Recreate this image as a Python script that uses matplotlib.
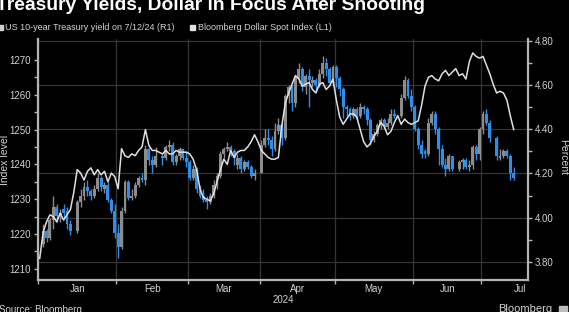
import numpy as np
import pandas as pd
import matplotlib
matplotlib.use("Agg")
import matplotlib.pyplot as plt
from matplotlib.patches import Rectangle

W, H = 569, 312
plt.rcParams['font.family'] = ['Liberation Sans', 'DejaVu Sans']

# one entry per weekday, Jan 1 2024 .. Jul 12 2024
days = pd.bdate_range("2024-01-01", "2024-07-12")

# Bloomberg Dollar Spot Index (left axis)
dollar = [
    1213.0, 1220.5, 1223.5, 1225.5, 1225.0, 1223.5, 1226.0, 1224.0, 1225.5, 1227.0,
    1232.0, 1238.5, 1237.5, 1235.5, 1238.0, 1239.0, 1237.0, 1238.5, 1237.0, 1238.0,
    1235.0, 1237.5, 1236.5,
    1233.0, 1244.5, 1242.5, 1242.0, 1243.0, 1242.5, 1244.0, 1245.0, 1250.0, 1245.5,
    1244.0, 1244.0, 1243.5, 1243.0, 1244.0, 1243.0, 1243.0, 1244.0, 1243.5, 1243.5,
    1243.5,
    1243.0, 1241.5, 1238.5, 1233.0, 1230.5, 1230.0, 1229.5, 1231.5, 1235.0, 1238.5,
    1241.5, 1240.0, 1244.0, 1242.0, 1243.5, 1244.0, 1244.0, 1245.0, 1246.5, 1248.5,
    1246.5,
    1244.0, 1243.0, 1242.0, 1241.5, 1241.5, 1242.0, 1251.0, 1257.5, 1260.5, 1263.0,
    1265.5, 1264.5, 1262.5, 1263.0, 1263.5, 1261.5, 1260.5, 1263.0, 1263.5, 1261.5,
    1262.5, 1264.5,
    1258.5, 1253.5, 1251.5, 1253.0, 1254.5, 1254.5, 1253.5, 1250.0, 1246.5, 1245.0,
    1246.0, 1248.0, 1249.5, 1252.0, 1251.0, 1248.5, 1249.5, 1252.0, 1254.0, 1251.5,
    1253.0, 1252.0, 1251.5,
    1252.0, 1252.5, 1257.0, 1262.5, 1265.0, 1265.5, 1264.5, 1264.0, 1266.0, 1267.0,
    1265.5, 1266.5, 1267.5, 1265.5, 1266.0, 1264.5, 1269.5, 1272.0, 1271.0, 1270.5,
    1271.0, 1268.5, 1266.0, 1263.0, 1260.5, 1261.0, 1260.5, 1258.5, 1254.0, 1250.0,
]

# US 10-year Treasury yield candles (right axis), None = market closed
N = None
y_open = [
    N, 3.88, 3.94, 3.91, 3.99, 4.05, 4.01, 4.04, 4.03, 3.97, N, 3.94, 4.07, 4.10, 4.14,
    4.12, 4.10, 4.13, 4.18, 4.13, 4.15, 4.08, 4.03,
    3.93, 3.87, 4.03, 4.16, 4.09, 4.10, 4.15, 4.18, 4.17, 4.31, 4.26, 4.24, N, 4.28,
    4.27, 4.32, 4.33, 4.25, 4.28, 4.31, 4.27,
    4.25, 4.18, 4.22, 4.13, 4.10, 4.08, 4.07, 4.10, 4.15, 4.19, 4.29, 4.31, 4.32, 4.30,
    4.24, 4.27, 4.22, 4.25, 4.23, 4.19, N,
    4.20, 4.33, 4.36, 4.35, 4.31, 4.39, 4.42, 4.36, 4.55, 4.59, 4.52, 4.63, 4.67, 4.59,
    4.64, 4.61, 4.62, 4.60, 4.65, 4.70, 4.67, 4.61,
    4.68, 4.63, 4.58, 4.50, 4.49, 4.46, 4.49, 4.46, 4.50, 4.49, 4.44, 4.35, 4.38, 4.42,
    4.44, 4.41, 4.43, 4.47, N, 4.46, 4.54, 4.62, 4.55,
    4.50, 4.40, 4.33, 4.30, 4.29, 4.43, 4.47, 4.40, 4.31, 4.24, 4.22, 4.28, N, 4.22,
    4.25, 4.26, 4.23, 4.24, 4.32, 4.29,
    4.40, 4.47, 4.43, N, 4.36, 4.27, 4.28, 4.30, 4.28, 4.20,
]
y_high = [
    N, 3.97, 3.95, 4.00, 4.10, 4.06, 4.04, 4.06, 4.05, 3.99, N, 4.08, 4.13, 4.16, 4.17,
    4.13, 4.15, 4.20, 4.19, 4.16, 4.16, 4.09, 4.06,
    3.97, 4.05, 4.17, 4.17, 4.13, 4.16, 4.19, 4.20, 4.33, 4.32, 4.28, 4.32, N, 4.29,
    4.33, 4.35, 4.34, 4.29, 4.32, 4.31, 4.30,
    4.26, 4.24, 4.23, 4.15, 4.13, 4.10, 4.11, 4.17, 4.20, 4.30, 4.32, 4.34, 4.33, 4.31,
    4.29, 4.28, 4.26, 4.26, 4.24, 4.22, N,
    4.35, 4.40, 4.40, 4.37, 4.43, 4.45, 4.43, 4.56, 4.60, 4.60, 4.64, 4.70, 4.68, 4.65,
    4.67, 4.64, 4.63, 4.67, 4.73, 4.72, 4.68, 4.69,
    4.69, 4.64, 4.59, 4.51, 4.50, 4.50, 4.50, 4.52, 4.51, 4.50, 4.45, 4.39, 4.43, 4.45,
    4.45, 4.45, 4.49, 4.49, N, 4.56, 4.64, 4.63, 4.58,
    4.51, 4.41, 4.35, 4.31, 4.45, 4.48, 4.48, 4.41, 4.33, 4.27, 4.29, 4.28, N, 4.26,
    4.27, 4.27, 4.26, 4.33, 4.33, 4.41,
    4.48, 4.49, 4.44, N, 4.37, 4.31, 4.31, 4.31, 4.29, 4.23,
]
y_low = [
    N, 3.87, 3.89, 3.90, 3.95, 3.98, 3.98, 4.00, 3.95, 3.92, N, 3.93, 4.05, 4.08, 4.10,
    4.08, 4.09, 4.12, 4.12, 4.11, 4.07, 4.02, 3.91,
    3.82, 3.86, 4.02, 4.08, 4.08, 4.09, 4.14, 4.16, 4.15, 4.24, 4.20, 4.23, N, 4.24,
    4.26, 4.30, 4.24, 4.24, 4.26, 4.26, 4.23,
    4.17, 4.17, 4.11, 4.09, 4.07, 4.04, 4.06, 4.09, 4.13, 4.18, 4.27, 4.30, 4.28, 4.24,
    4.22, 4.20, 4.21, 4.22, 4.18, 4.17, N,
    4.20, 4.32, 4.33, 4.28, 4.30, 4.38, 4.33, 4.35, 4.52, 4.48, 4.50, 4.61, 4.57, 4.56,
    4.50, 4.59, 4.57, 4.59, 4.63, 4.64, 4.60, 4.60,
    4.59, 4.55, 4.45, 4.46, 4.44, 4.45, 4.44, 4.45, 4.47, 4.42, 4.33, 4.34, 4.37, 4.40,
    4.40, 4.40, 4.42, 4.45, N, 4.45, 4.53, 4.54, 4.48,
    4.39, 4.31, 4.27, 4.27, 4.28, 4.42, 4.38, 4.24, 4.23, 4.19, 4.21, 4.21, N, 4.21,
    4.22, 4.22, 4.21, 4.22, 4.26, 4.26,
    4.38, 4.42, 4.34, N, 4.26, 4.26, 4.27, 4.27, 4.17, 4.17,
]
y_close = [
    N, 3.94, 3.91, 3.99, 4.05, 4.01, 4.02, 4.02, 3.97, 3.94, N, 4.07, 4.10, 4.14, 4.12,
    4.10, 4.13, 4.18, 4.14, 4.15, 4.08, 4.03, 3.93,
    3.87, 4.03, 4.16, 4.09, 4.10, 4.15, 4.18, 4.17, 4.31, 4.26, 4.24, 4.28, N, 4.27,
    4.32, 4.33, 4.25, 4.28, 4.31, 4.27, 4.25,
    4.18, 4.22, 4.13, 4.10, 4.08, 4.07, 4.10, 4.15, 4.19, 4.29, 4.31, 4.32, 4.30, 4.27,
    4.27, 4.22, 4.25, 4.23, 4.19, 4.20, N,
    4.33, 4.36, 4.35, 4.31, 4.39, 4.42, 4.36, 4.55, 4.59, 4.52, 4.63, 4.67, 4.59, 4.64,
    4.62, 4.62, 4.60, 4.65, 4.70, 4.67, 4.61, 4.68,
    4.63, 4.58, 4.50, 4.49, 4.46, 4.49, 4.46, 4.50, 4.49, 4.44, 4.35, 4.38, 4.42, 4.44,
    4.41, 4.43, 4.47, 4.46, N, 4.54, 4.62, 4.55, 4.50,
    4.40, 4.33, 4.29, 4.29, 4.43, 4.47, 4.40, 4.31, 4.24, 4.22, 4.28, 4.22, N, 4.25,
    4.26, 4.23, 4.24, 4.32, 4.29, 4.40,
    4.47, 4.43, 4.36, N, 4.28, 4.28, 4.30, 4.28, 4.20, 4.18,
]

month_names = ["Jan", "Feb", "Mar", "Apr", "May", "Jun", "Jul"]

BG = "#000000"
GRID = "#363636"
SPINE = "#b4b4b4"
TXT = "#d2d2d2"
UP = "#8c8c8c"
DOWN = "#2f8ee6"
LINE = "#e0e0e0"

fig = plt.figure(figsize=(W / 100, H / 100), dpi=100, facecolor=BG)
ax = fig.add_axes([38 / W, 1 - 280 / H, (528 - 38) / W, (280 - 39) / H], facecolor=BG)
ax2 = ax.twinx()

x = np.arange(len(days))
o = np.array(y_open, dtype=float)
hi = np.array(y_high, dtype=float)
lo = np.array(y_low, dtype=float)
c = np.array(y_close, dtype=float)
up = c >= o
cols = np.where(up, UP, DOWN)
body = np.where(np.abs(c - o) < 0.006, 0.006, c - o)

ax.vlines(x, lo, hi, colors=cols, lw=1.0, zorder=2)
ax.bar(x, body, bottom=o, width=0.85, color=cols, linewidth=0, zorder=3)

ax.set_xlim(-0.5, 143.2)
ax.set_ylim(3.719, 4.807)

# month boundaries (gridlines + ticks) and label positions
mon = days.month
starts = [int(np.argmax(mon == m)) for m in range(1, 8)]
bounds = [s - 0.5 for s in starts]
label_pos = [(a + b) / 2 for a, b in zip(bounds[:-1], bounds[1:])] + [140.8]
ax.set_xticks(bounds)
ax.set_xticklabels([])
ax.set_xticks(label_pos, minor=True)
ax.set_xticklabels(month_names, minor=True)
ax.tick_params(axis='x', which='major', length=3, width=1, color=SPINE)
ax.tick_params(axis='x', which='minor', length=0, pad=3, labelsize=7, labelcolor=TXT)

rt = [3.8, 4.0, 4.2, 4.4, 4.6, 4.8]
ax.yaxis.tick_right()
ax.yaxis.set_label_position('right')
ax.set_yticks(rt)
ax.set_yticklabels([f"{v:.2f}" for v in rt])
ax.set_yticks([3.9, 4.1, 4.3, 4.5, 4.7], minor=True)
ax.tick_params(axis='y', which='both', left=False, right=True, labelleft=False,
               labelright=True, length=3, width=1, color=SPINE,
               labelsize=7, labelcolor=TXT, pad=2)
ax.grid(True, which='major', color=GRID, lw=0.9)
ax.set_axisbelow(True)

for s in ['top', 'left']:
    ax.spines[s].set_visible(False)
for s in ['right', 'bottom']:
    ax.spines[s].set_color(SPINE)
    ax.spines[s].set_linewidth(1.6)

ax2.plot(x, dollar, color=LINE, lw=1.1, zorder=4)
ax2.set_ylim(1206.8, 1276.0)
ax2.set_yticks(range(1210, 1271, 10))
ax2.set_yticks(range(1215, 1270, 10), minor=True)
ax2.tick_params(axis='y', which='both', left=True, right=False, labelleft=True,
                labelright=False, length=3, width=1, color=SPINE,
                labelsize=7, labelcolor=TXT, pad=2)
for s in ['top', 'right', 'bottom']:
    ax2.spines[s].set_visible(False)
ax2.spines['left'].set_visible(True)
ax2.spines['left'].set_color(SPINE)
ax2.spines['left'].set_linewidth(1.6)

# titles and annotations
fig.text(-4 / W, 1 - 10 / H, "Treasury Yields, Dollar in Focus After Shooting",
         fontsize=13.9, weight='bold', color='white', va='baseline')
fig.patches.append(Rectangle((-1 / W, 1 - 30 / H), 4 / W, 5 / H, color='#cfcfcf',
                             transform=fig.transFigure, figure=fig))
fig.text(5 / W, 1 - 30 / H, "US 10-year Treasury yield on 7/12/24 (R1)",
         fontsize=6.5, color=TXT, va='baseline')
fig.patches.append(Rectangle((190 / W, 1 - 30 / H), 5 / W, 5 / H, color='#e0e0e0',
                             transform=fig.transFigure, figure=fig))
fig.text(198 / W, 1 - 30 / H, "Bloomberg Dollar Spot Index (L1)",
         fontsize=6.5, color=TXT, va='baseline')

fig.text(5 / W, 1 - 160 / H, "Index level", rotation=90, fontsize=7.5, color=TXT,
         ha='center', va='center')
fig.text(563 / W, 1 - 157 / H, "Percent", rotation=270, fontsize=7.5, color=TXT,
         ha='center', va='center')
fig.text(283 / W, 1 - 300 / H, "2024", fontsize=7, color=TXT, ha='center', va='center')
fig.text(-1 / W, 1 - 310 / H, "Source: Bloomberg", fontsize=7, color=TXT, va='center')
fig.text(498 / W, 1 - 309 / H, "Bloomberg", fontsize=8, color=TXT, va='center')
fig.patches.append(Rectangle((559 / W, 1 - 314 / H), 8 / W, 8 / H, color='#bdbdbd',
                             transform=fig.transFigure, figure=fig))

fig.savefig("out.png", dpi=100, facecolor=BG)
